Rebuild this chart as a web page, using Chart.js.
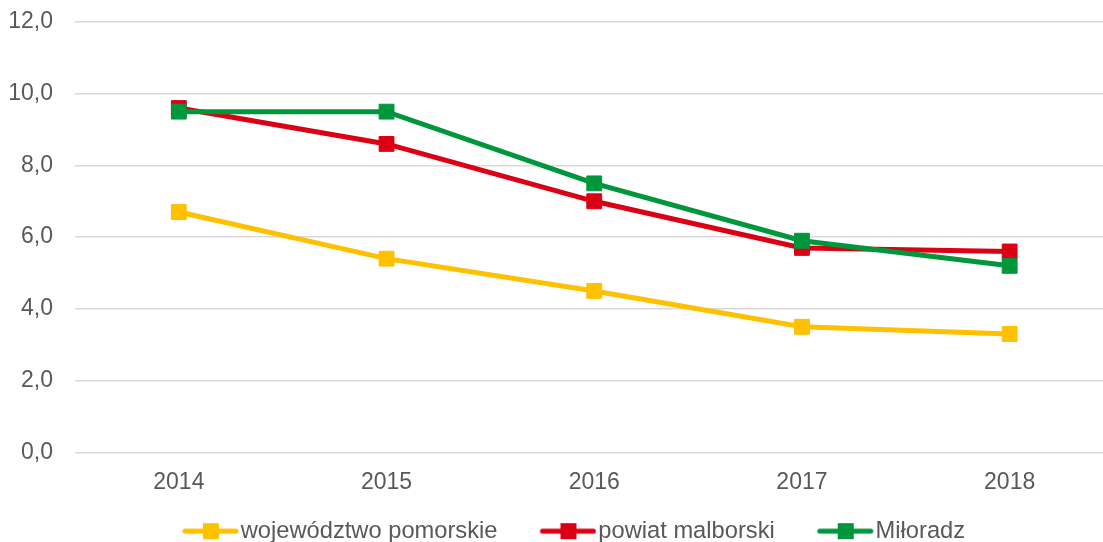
<!DOCTYPE html>
<html>
<head>
<meta charset="utf-8">
<script src="https://cdn.jsdelivr.net/npm/chart.js@4.4.0/dist/chart.umd.min.js"></script>
<style>
  html, body { margin: 0; padding: 0; overflow: hidden; background: #fff; }
  canvas { display: block; }
</style>
</head>
<body>
<canvas id="lineChart" width="1125" height="560"></canvas>
<script>
// values
const years = ['2014', '2015', '2016', '2017', '2018'];
const pomorskie = [6.7, 5.4, 4.5, 3.5, 3.3];
const malborski = [9.6, 8.6, 7.0, 5.7, 5.6];
const miloradz = [9.5, 9.5, 7.5, 5.9, 5.2];
const yRange = [0, 12];
const yStep = 2;

const YELLOW = '#FFC000';
const RED = '#DC0014';
const GREEN = '#00963C';

Chart.defaults.font.family = "'Liberation Sans', Arial, sans-serif";
Chart.defaults.font.size = 23;
Chart.defaults.color = '#595959';

// legend key: line with a square on it, drawn in the right 57px of a wider
// transparent image so the items get the wide gaps of the original
const ICON_W = 99;
function legendIcon(color) {
    const c = document.createElement('canvas');
    c.width = ICON_W;
    c.height = 18;
    const g = c.getContext('2d');
    const x0 = ICON_W - 57;
    g.strokeStyle = color;
    g.lineWidth = 5;
    g.lineCap = 'round';
    g.beginPath();
    g.moveTo(x0 + 3, 9);
    g.lineTo(ICON_W - 3, 9);
    g.stroke();
    g.fillStyle = color;
    g.fillRect(x0 + 21, 1, 16, 16);
    return c;
}

function series(label, data, color, order) {
    return {
        label: label,
        data: data,
        borderColor: color,
        backgroundColor: color,
        borderWidth: 5,
        pointStyle: 'rect',
        pointRadius: 10.5,
        pointBorderWidth: 1,
        pointBorderColor: color,
        pointBackgroundColor: color,
        tension: 0,
        order: order
    };
}

const ctx = document.getElementById('lineChart').getContext('2d');
new Chart(ctx, {
    type: 'line',
    data: {
        labels: years,
        datasets: [
            series('województwo pomorskie', pomorskie, YELLOW, 3),
            series('powiat malborski', malborski, RED, 2),
            series('Miłoradz', miloradz, GREEN, 1)
        ]
    },
    options: {
        responsive: false,
        animation: false,
        layout: { padding: { top: 22, right: 10, left: 0, bottom: 7 } },
        plugins: {
            tooltip: { enabled: false },
            legend: {
                position: 'bottom',
                labels: {
                    usePointStyle: true,
                    pointStyleWidth: 79,
                    padding: 10,
                    color: '#595959',
                    font: { size: 23.7 },
                    generateLabels: (chart) => {
                        const items = Chart.defaults.plugins.legend.labels.generateLabels(chart);
                        items.sort((a, b) => a.datasetIndex - b.datasetIndex);
                        items.forEach(it => {
                            it.pointStyle = legendIcon(chart.data.datasets[it.datasetIndex].borderColor);
                        });
                        return items;
                    }
                }
            }
        },
        scales: {
            x: {
                offset: true,
                grid: { display: false },
                border: { display: false },
                ticks: { padding: 9, color: '#595959' },
                afterFit: (s) => { s.height = 57; }
            },
            y: {
                min: yRange[0],
                max: yRange[1],
                ticks: {
                    stepSize: yStep,
                    padding: 22,
                    color: '#595959',
                    callback: (v) => v.toFixed(1).replace('.', ',')
                },
                grid: { color: '#D9D9D9', lineWidth: 1.5, drawTicks: false },
                border: { display: false },
                afterFit: (s) => {
                    s.width = 75;
                    // the tick padding should not push the plot down
                    s.paddingTop = 0;
                    s.paddingBottom = 0;
                }
            }
        }
    }
});
</script>
</body>
</html>
